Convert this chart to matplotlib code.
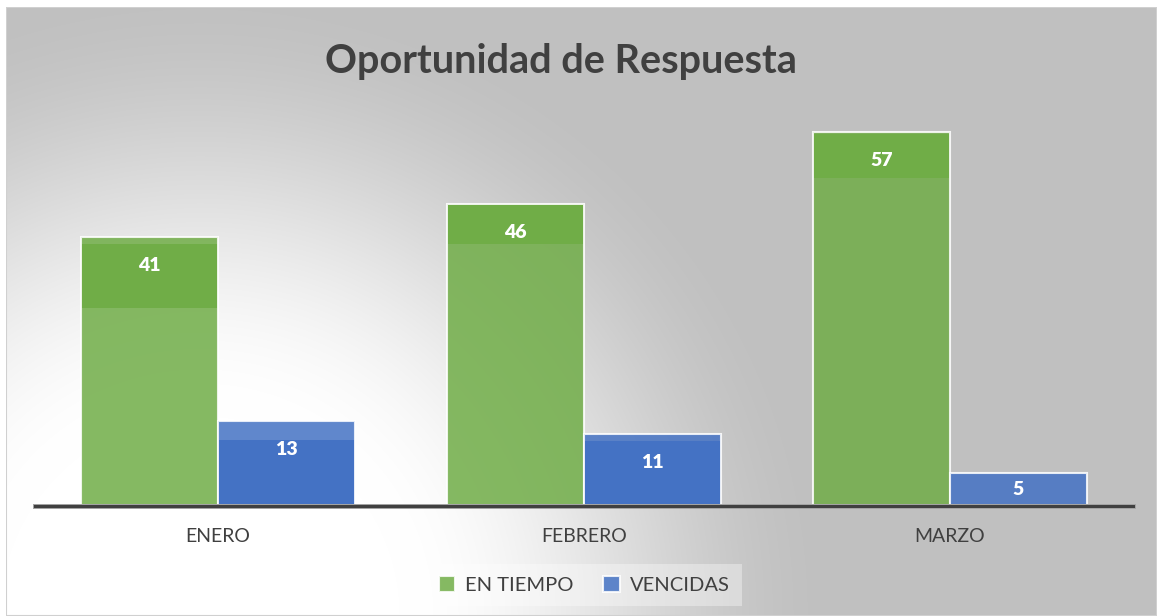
import numpy as np
import matplotlib
matplotlib.use("Agg")
from matplotlib import pyplot as plt
from matplotlib.patches import Rectangle

months = ["ENERO", "FEBRERO", "MARZO"]
en_tiempo = [41, 46, 57]
vencidas = [13, 11, 5]
series_names = ["EN TIEMPO", "VENCIDAS"]

# darker label strip on each bar: (gap below bar top, depth below bar top), data units
green_band = [(1.1, 10.9), (0.2, 6.1), (0.3, 7.0)]
blue_band = [(3.0, 13.0), (1.1, 11.0), (0.0, 0.0)]

GREEN = "#70AD47"
BLUE = "#4472C4"
TXT = "#404040"

plt.rcParams["font.family"] = ["Lato", "DejaVu Sans"]

W, H = 1157, 616
fig = plt.figure(figsize=(W / 100, H / 100), dpi=100)
fig.patch.set_facecolor("white")

# background panel with radial gradient (light near bottom left)
bg = fig.add_axes([6 / W, 0, (W - 6) / W, (H - 7) / H])
bg.set_axis_off()
xs = np.arange(6, W)
ys = np.arange(7, H)
X, Y = np.meshgrid(xs, ys)
d = np.hypot(X - 200, Y - 616)
f = np.clip(1 - (d - 200) / 440, 0, 1)
f = f * f * (3 - 2 * f)
val = (192 + 63 * f) / 255
bg.imshow(np.dstack([val, val, val]), aspect="auto", interpolation="bilinear",
          extent=[0, 1, 0, 1])
bg.set_xlim(0, 1)
bg.set_ylim(0, 1)
bg.add_patch(Rectangle((0, 0), 1, 1, transform=bg.transAxes, fill=False,
                       edgecolor="#d0d0d0", linewidth=1.5))

ymax = 60
ax = fig.add_axes([35 / W, (H - 506) / H, 1098 / W, 394 / H])
ax.set_facecolor("none")
x = np.arange(len(months))
w = 137 / 366

b1 = ax.bar(x - w / 2, en_tiempo, w, color=GREEN, alpha=0.85, edgecolor="white",
            linewidth=1.5, label=series_names[0], zorder=2)
b2 = ax.bar(x + w / 2, vencidas, w, color=BLUE, alpha=0.85, edgecolor="white",
            linewidth=1.5, label=series_names[1], zorder=2)
for b in list(b1) + list(b2):
    b.set_edgecolor("white")

for xs_, vals, bands, col in [(x - w / 2, en_tiempo, green_band, GREEN),
                              (x + w / 2, vencidas, blue_band, BLUE)]:
    for xi, v, (g, dp) in zip(xs_, vals, bands):
        if dp > g:
            top = v - g
            bot = max(v - dp, 0)
            ax.bar(xi, top - bot, w * 0.985, bottom=bot, color=col, zorder=3)
        ly = v - 4.4 if v > 8.8 else v / 2
        ax.text(xi, ly, str(v), ha="center", va="center", color="white",
                fontsize=14, fontweight="heavy", zorder=4)

ax.set_xlim(-0.5, 2.5)
ax.set_ylim(0, ymax)
for s in ax.spines.values():
    s.set_visible(False)
ax.axhline(0, color="#a6a6a6", linewidth=3.6, zorder=4, clip_on=False)
ax.axhline(0, color="#404040", linewidth=2.2, zorder=5, clip_on=False)
ax.set_yticks([])
ax.set_xticks(x)
ax.set_xticklabels(months, color=TXT, fontsize=14)
ax.tick_params(axis="x", length=0, pad=16)

fig.text(561 / W, 1 - 61 / H, "Oportunidad de Respuesta", ha="center", va="center",
         fontsize=28.5, fontweight="bold", color=TXT)

leg = fig.legend(handles=[b1, b2], labels=series_names, loc="center",
                 bbox_to_anchor=(584 / W, 1 - 585 / H), ncol=2, frameon=True,
                 fontsize=14.5, handlelength=0.8, handleheight=0.8,
                 handletextpad=0.5, columnspacing=1.5, borderpad=0.6,
                 labelcolor=TXT)
leg.get_frame().set_facecolor("white")
leg.get_frame().set_alpha(0.35)
leg.get_frame().set_edgecolor("none")
leg.get_frame().set_boxstyle("square", pad=0)

fig.savefig("out.png", dpi=100)
